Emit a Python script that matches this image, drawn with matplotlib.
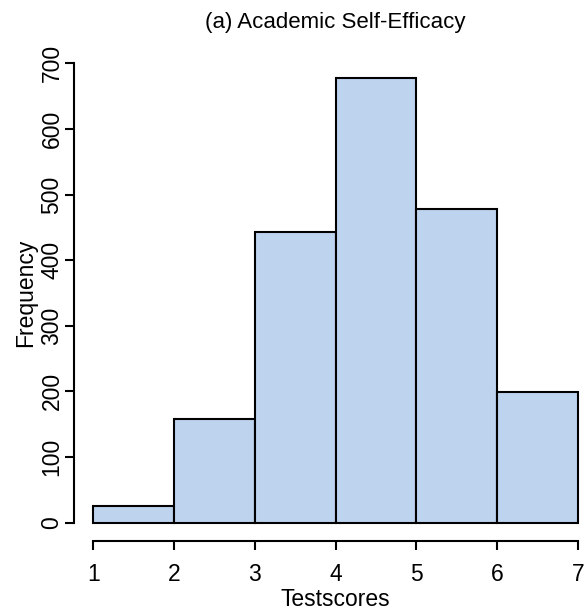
import matplotlib
matplotlib.use("Agg")
import matplotlib.pyplot as plt

plt.rcParams['font.family'] = ['Liberation Sans', 'DejaVu Sans']

bin_edges = [1, 2, 3, 4, 5, 6, 7]
counts = [25, 158, 443, 678, 478, 199]
bar_color = '#bdd3ee'

fig = plt.figure(figsize=(5.84, 6.10), dpi=100)
ax = fig.add_axes([0.1265, 0.1131, 0.8964, 0.8133])

ax.bar(bin_edges[:-1], counts, width=1, align='edge', color=bar_color,
       edgecolor='black', linewidth=1.5)

ax.set_xlim(0.76, 7.24)
ax.set_ylim(-28, 728)
ax.set_xticks(bin_edges)
ax.set_yticks(range(0, 701, 100))
ax.set_yticklabels([str(v) for v in range(0, 701, 100)], rotation=90, va='center')

for s in ['top', 'right']:
    ax.spines[s].set_visible(False)
ax.spines['left'].set_bounds(0, 700)
ax.spines['bottom'].set_bounds(1, 7)
ax.spines['left'].set_linewidth(1.5)
ax.spines['bottom'].set_linewidth(1.5)
ax.tick_params(axis='both', length=6.5, width=1.5, labelsize=16.5)
ax.tick_params(axis='x', pad=9)
ax.tick_params(axis='y', pad=1)

ax.set_xlabel('Testscores', fontsize=16.5, labelpad=1.5)
ax.set_ylabel('Frequency', fontsize=16.5, labelpad=2.5)
ax.set_title('(a) Academic Self-Efficacy', fontsize=16, pad=12)

fig.savefig('out.png', dpi=100)
